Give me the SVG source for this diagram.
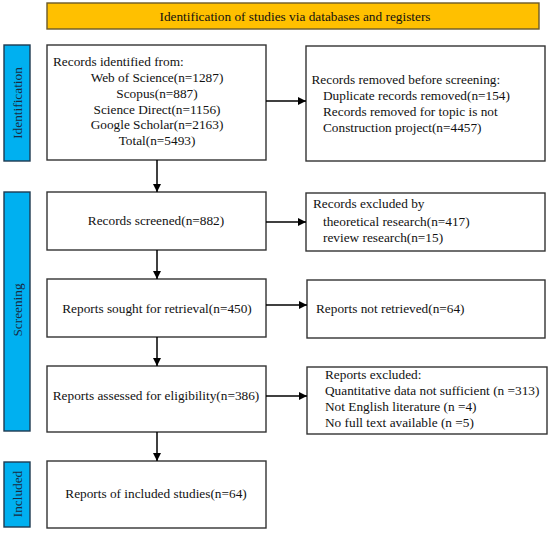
<svg xmlns="http://www.w3.org/2000/svg" width="550" height="533" viewBox="0 0 550 533">
<style>
text{font-family:"Liberation Serif","Times New Roman",serif;font-size:13.3px;fill:#111}
.box{fill:#fff;stroke:#333;stroke-width:1.4}
.side{fill:#00B0F0;stroke:#1f3a50;stroke-width:1.4}
.side-t{font-size:13.3px;fill:#1a2a40}
.c{text-anchor:middle}
.ln{stroke:#000;stroke-width:1.5;fill:none}
</style>
<defs>
<marker id="ah" viewBox="0 0 10 10" refX="10" refY="5" markerWidth="8" markerHeight="8" markerUnits="userSpaceOnUse" orient="auto">
<path d="M0,0 L10,5 L0,10 z" fill="#000"/>
</marker>
</defs>
<rect width="550" height="533" fill="#fff"/>
<g id="header">
<rect x="47" y="3" width="492" height="26" fill="#FFC000" stroke="#6b5a2a" stroke-width="1.4"/>
<text class="c" x="295" y="20.5">Identification of studies via databases and registers</text>
</g>
<g id="side-identification">
<rect class="side" x="4" y="45" width="26" height="116"/>
<text class="side-t c" transform="translate(21.5,103) rotate(-90)">Identification</text>
</g>
<g id="side-screening">
<rect class="side" x="4" y="192" width="26" height="239"/>
<text class="side-t c" transform="translate(21.5,310) rotate(-90)">Screening</text>
</g>
<g id="side-included">
<rect class="side" x="4" y="462" width="26" height="65"/>
<text class="side-t c" transform="translate(21.5,494) rotate(-90)">Included</text>
</g>
<g id="records-identified">
<rect class="box" x="47" y="45" width="219" height="115"/>
<text x="53" y="66">Records identified from:</text>
<text class="c" x="157" y="82">Web of Science(n=1287)</text>
<text class="c" x="157" y="98">Scopus(n=887)</text>
<text class="c" x="157" y="113.5">Science Direct(n=1156)</text>
<text class="c" x="157" y="129">Google Scholar(n=2163)</text>
<text class="c" x="157" y="145">Total(n=5493)</text>
</g>
<g id="records-removed">
<rect class="box" x="306" y="46" width="239" height="115"/>
<text x="311.5" y="84">Records removed before screening:</text>
<text x="323" y="100">Duplicate records removed(n=154)</text>
<text x="323" y="116">Records removed for topic is not</text>
<text x="323" y="132">Construction project(n=4457)</text>
</g>
<g id="records-screened">
<rect class="box" x="47" y="192" width="219" height="58"/>
<text class="c" x="156" y="225">Records screened(n=882)</text>
</g>
<g id="records-excluded">
<rect class="box" x="306" y="193" width="239" height="58"/>
<text x="313" y="208">Records excluded by</text>
<text x="323" y="225.5">theoretical research(n=417)</text>
<text x="323" y="242">review research(n=15)</text>
</g>
<g id="reports-sought">
<rect class="box" x="47" y="279" width="219" height="58"/>
<text class="c" x="157" y="313">Reports sought for retrieval(n=450)</text>
</g>
<g id="reports-not-retrieved">
<rect class="box" x="307" y="280" width="238" height="58"/>
<text x="316" y="313">Reports not retrieved(n=64)</text>
</g>
<g id="reports-assessed">
<rect class="box" x="47" y="366" width="219" height="66"/>
<text class="c" x="156" y="400">Reports assessed for eligibility(n=386)</text>
</g>
<g id="reports-excluded">
<rect class="box" x="307" y="367" width="240" height="67"/>
<text x="325" y="379">Reports excluded:</text>
<text x="325" y="395">Quantitative data not sufficient (n =313)</text>
<text x="325" y="411">Not English literature (n =4)</text>
<text x="325" y="426.5">No full text available (n =5)</text>
</g>
<g id="reports-included">
<rect class="box" x="47" y="461" width="219" height="67"/>
<text class="c" x="156" y="498">Reports of included studies(n=64)</text>
</g>
<g id="connectors">
<line class="ln" x1="266" y1="101" x2="306" y2="101" marker-end="url(#ah)"/>
<line class="ln" x1="157" y1="160" x2="157" y2="192" marker-end="url(#ah)"/>
<line class="ln" x1="266" y1="222" x2="306" y2="222" marker-end="url(#ah)"/>
<line class="ln" x1="157" y1="250" x2="157" y2="279" marker-end="url(#ah)"/>
<line class="ln" x1="266" y1="305" x2="307" y2="305" marker-end="url(#ah)"/>
<line class="ln" x1="157" y1="337" x2="157" y2="366" marker-end="url(#ah)"/>
<line class="ln" x1="266" y1="396" x2="307" y2="396" marker-end="url(#ah)"/>
<line class="ln" x1="157" y1="432" x2="157" y2="461" marker-end="url(#ah)"/>
</g>
</svg>
